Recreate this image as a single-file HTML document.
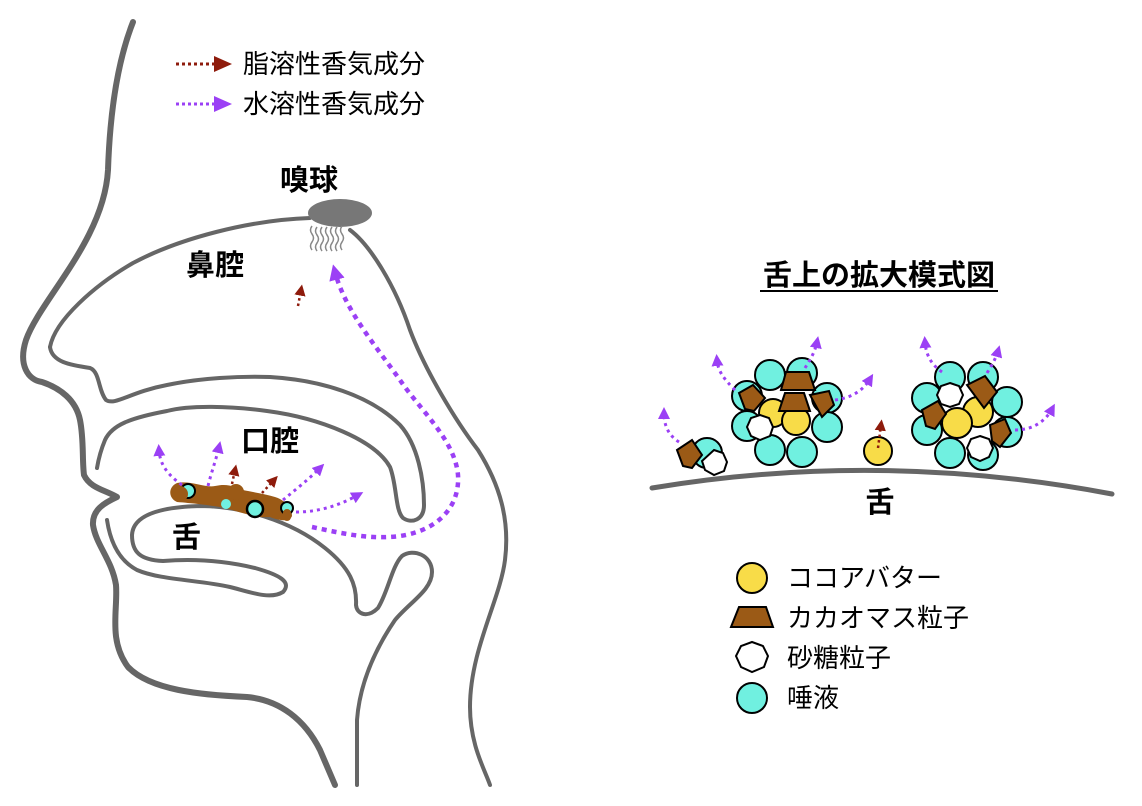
<!DOCTYPE html>
<html><head><meta charset="utf-8"><style>
html,body{margin:0;padding:0;background:#fff;}
svg{display:block;}
text{font-family:"Liberation Sans","Noto Sans CJK JP",sans-serif;}
</style></head><body>
<svg width="1142" height="806" viewBox="0 0 1142 806" xmlns="http://www.w3.org/2000/svg">
<defs>
<marker id="ap" viewBox="0 0 10 10" refX="5" refY="5" markerWidth="4" markerHeight="4" orient="auto"><path d="M0,0L10,5L0,10z" fill="#9b40f5"/></marker>
<marker id="ar" viewBox="0 0 10 10" refX="5" refY="5" markerWidth="4.5" markerHeight="4.5" orient="auto"><path d="M0,0L10,5L0,10z" fill="#8e1b0c"/></marker>
<marker id="apb" viewBox="0 0 10 10" refX="5" refY="5" markerWidth="3.5" markerHeight="3.5" orient="auto"><path d="M0,0L10,5L0,10z" fill="#9b40f5"/></marker>
</defs>
<g fill="none" stroke="#666" stroke-linecap="round" stroke-linejoin="round">
<path stroke-width="6" d="M133,22 C118,60 110,110 108,170 C104,240 40,300 26,340 C18,365 28,380 42,382 C60,388 76,400 80,420 C84,440 82,460 84,475 C90,488 105,490 117,497 C104,503 92,510 93,525 C96,545 112,560 116,585 C118,610 108,640 128,667 C150,690 200,695 247,697 C280,700 305,720 320,750 L335,785"/>
<path stroke-width="4" d="M50,347 C55,320 95,285 133,263 C180,238 250,220 310,218 M350,230 C370,245 395,285 410,330 C425,370 455,420 478,450 C500,485 510,520 505,560 C500,600 470,650 470,707 C470,745 485,770 490,785"/>
<path stroke-width="4" d="M50,347 C52,362 70,365 90,368 C100,372 98,390 106,400 C115,406 130,392 167,385 C200,378 240,376 270,377 C320,380 370,395 400,425 C418,445 424,480 424,505 C424,520 412,524 403,518 C395,510 397,485 390,467 C375,440 320,418 267,411 C230,406 190,405 167,411 C130,418 112,425 105,440 C100,452 98,462 97,468"/>
<path stroke-width="4" d="M107,520 C110,540 118,560 137,570 C160,580 200,580 230,587 C250,592 270,600 283,592 C292,582 280,575 255,568 C230,562 200,558 163,561 C140,560 132,552 132,535 C133,515 160,507 200,506 C240,506 290,520 325,548 C350,568 357,585 356,605 C357,615 368,618 378,608 C388,592 392,566 402,556 C413,548 432,555 432,572 C432,590 410,602 395,620 C378,645 360,680 357,720 L357,785"/>
</g>
<ellipse cx="340" cy="213" rx="32" ry="14" fill="#777"/>
<g fill="none" stroke="#888" stroke-width="1.5">
<path d="M312,226 q-3,4 0,8 q3,4 0,8 q-3,4 0,8"/>
<path d="M317,227 q-3,4 0,8 q3,4 0,8 q-3,4 0,8"/>
<path d="M322,227 q-3,4 0,8 q3,4 0,8 q-3,4 0,8"/>
<path d="M327,227 q-3,4 0,8 q3,4 0,8 q-3,4 0,8"/>
<path d="M332,227 q-3,4 0,8 q3,4 0,8 q-3,4 0,8"/>
<path d="M337,227 q-3,4 0,8 q3,4 0,8 q-3,4 0,8"/>
<path d="M342,226 q-3,4 0,8 q3,4 0,8 q-3,4 0,8"/>
</g>
<path d="M312,527 C340,533 370,540 400,536 C440,530 460,505 458,475 C455,440 420,410 400,380 C375,345 345,310 335,272" fill="none" stroke="#9b40f5" stroke-width="4.5" stroke-dasharray="5 5" marker-end="url(#apb)"/>
<path d="M298,306 L301,290" fill="none" stroke="#8e1b0c" stroke-width="2.5" stroke-dasharray="2.5 3" marker-end="url(#ar)"/>
<g>
<path d="M177,483 C190,480 205,488 215,486 C228,483 235,487 243,490 C252,492 265,494 275,497 C285,500 292,508 292,516 C290,522 280,521 270,517 C255,518 240,512 225,508 C210,505 190,503 177,502 C168,498 168,487 177,483z" fill="#9b5a16"/>
<circle cx="188" cy="491" r="7" fill="#70f0e0" stroke="#000" stroke-width="2"/>
<circle cx="180" cy="494" r="8" fill="#9b5a16"/>
<circle cx="236" cy="492" r="8" fill="#9b5a16"/>
<circle cx="255" cy="509" r="8" fill="#70f0e0" stroke="#000" stroke-width="2.5"/>
<circle cx="287" cy="508" r="6" fill="#70f0e0" stroke="#000" stroke-width="2"/>
<circle cx="226" cy="504" r="5" fill="#70f0e0"/>
<rect x="283" y="509" width="8" height="12" rx="4" fill="#9b5a16"/>
</g>
<g fill="none" stroke="#9b40f5" stroke-width="3" stroke-dasharray="3 4" marker-end="url(#ap)">
<path d="M182,485 C168,475 160,465 159,450"/>
<path d="M208,486 C212,470 216,460 219,447"/>
<path d="M283,500 C295,490 308,480 320,468"/>
<path d="M296,512 C320,512 340,505 358,495"/>
</g>
<g fill="none" stroke="#8e1b0c" stroke-width="2.5" stroke-dasharray="2.5 3" marker-end="url(#ar)">
<path d="M232,484 L235,470"/>
<path d="M262,493 L274,480"/>
</g>
<path d="M176,64 L218,64" stroke="#8e1b0c" stroke-width="3" stroke-dasharray="3 3"/>
<path d="M214,56 L232,64 L214,72z" fill="#8e1b0c"/>
<path d="M176,104 L218,104" stroke="#9b40f5" stroke-width="3" stroke-dasharray="3 3"/>
<path d="M214,96 L232,104 L214,112z" fill="#9b40f5"/>
<text x="243" y="73" font-size="26">脂溶性香気成分</text>
<text x="243" y="113" font-size="26">水溶性香気成分</text>
<text x="280" y="190" font-size="29" font-weight="bold">嗅球</text>
<text x="186" y="275" font-size="29" font-weight="bold">鼻腔</text>
<text x="241" y="451" font-size="29" font-weight="bold">口腔</text>
<text x="172" y="547" font-size="29" font-weight="bold">舌</text>
<text x="879" y="285" font-size="29" font-weight="bold" text-anchor="middle">舌上の拡大模式図</text>
<line x1="760" y1="291" x2="998" y2="291" stroke="#000" stroke-width="2"/>
<text x="880" y="512" font-size="29" font-weight="bold" text-anchor="middle">舌</text>
<path d="M652,488 Q880,450 1112,494" fill="none" stroke="#666" stroke-width="5" stroke-linecap="round"/>
<g stroke="#000" stroke-width="2">
<circle cx="707" cy="453" r="15" fill="#70f0e0"/>
<polygon points="677,450 692,440 702,455 692,468 683,466" fill="#9b5a16"/>
<polygon points="714,450 723,453 727,462 724,471 714,475 705,470 702,461" fill="#fff"/>
<circle cx="770" cy="375" r="15" fill="#70f0e0"/>
<circle cx="802" cy="373" r="15" fill="#70f0e0"/>
<circle cx="747" cy="396" r="15" fill="#70f0e0"/>
<circle cx="827" cy="398" r="15" fill="#70f0e0"/>
<circle cx="747" cy="426" r="15" fill="#70f0e0"/>
<circle cx="827" cy="427" r="15" fill="#70f0e0"/>
<circle cx="770" cy="450" r="15" fill="#70f0e0"/>
<circle cx="802" cy="452" r="15" fill="#70f0e0"/>
<circle cx="773" cy="413" r="14" fill="#f8dc48"/>
<circle cx="796" cy="421" r="14" fill="#f8dc48"/>
<polygon points="760,415 769,418 773,427 770,436 760,440 751,436 747,427 751,418" fill="#fff"/>
<polygon points="786,372 809,372 815,390 781,390" fill="#9b5a16"/>
<polygon points="785,393 804,393 810,411 779,411" fill="#9b5a16"/>
<polygon points="739,393 753,385 765,398 754,411 745,409" fill="#9b5a16"/>
<polygon points="810,395 829,391 834,405 822,417" fill="#9b5a16"/>
<circle cx="950" cy="377" r="15" fill="#70f0e0"/>
<circle cx="983" cy="377" r="15" fill="#70f0e0"/>
<circle cx="927" cy="398" r="15" fill="#70f0e0"/>
<circle cx="1007" cy="402" r="15" fill="#70f0e0"/>
<circle cx="927" cy="430" r="15" fill="#70f0e0"/>
<circle cx="1007" cy="432" r="15" fill="#70f0e0"/>
<circle cx="950" cy="453" r="15" fill="#70f0e0"/>
<circle cx="983" cy="455" r="15" fill="#70f0e0"/>
<circle cx="978" cy="412" r="15" fill="#f8dc48"/>
<circle cx="957" cy="423" r="15" fill="#f8dc48"/>
<polygon points="950,383 959,386 963,395 959,404 950,407 941,404 937,395 941,386" fill="#fff"/>
<polygon points="980,436 989,439 993,448 989,457 980,461 971,457 967,448 971,439" fill="#fff"/>
<polygon points="967,385 985,376 997,392 984,408" fill="#9b5a16"/>
<polygon points="922,410 938,401 946,414 935,429 926,426" fill="#9b5a16"/>
<polygon points="990,425 1005,419 1011,433 1000,447 992,441" fill="#9b5a16"/>
<circle cx="878" cy="451" r="14" fill="#f8dc48"/>
</g>
<path d="M878,448 L881,425" fill="none" stroke="#8e1b0c" stroke-width="2.5" stroke-dasharray="2.5 3" marker-end="url(#ar)"/>
<g fill="none" stroke="#9b40f5" stroke-width="3" stroke-dasharray="3 4" marker-end="url(#ap)">
<path d="M679,442 C668,435 664,425 664,413"/>
<path d="M735,390 C725,380 718,372 717,360"/>
<path d="M805,368 C810,360 815,352 817,342"/>
<path d="M835,400 C850,398 862,392 870,379"/>
<path d="M942,372 C932,365 926,356 925,342"/>
<path d="M987,373 C992,365 996,358 998,351"/>
<path d="M1015,430 C1032,430 1045,422 1052,409"/>
</g>
<g stroke="#000" stroke-width="2">
<circle cx="752" cy="578" r="15" fill="#f8dc48"/>
<polygon points="739,607 766,607 773,627 731,627" fill="#9b5a16"/>
<polygon points="752,642 763,646 768,656 764,667 752,672 741,667 736,656 741,646" fill="#fff"/>
<circle cx="752" cy="698" r="15" fill="#70f0e0"/>
</g>
<text x="787" y="587" font-size="26">ココアバター</text>
<text x="787" y="627" font-size="26">カカオマス粒子</text>
<text x="787" y="667" font-size="26">砂糖粒子</text>
<text x="787" y="707" font-size="26">唾液</text>
</svg>
</body></html>
